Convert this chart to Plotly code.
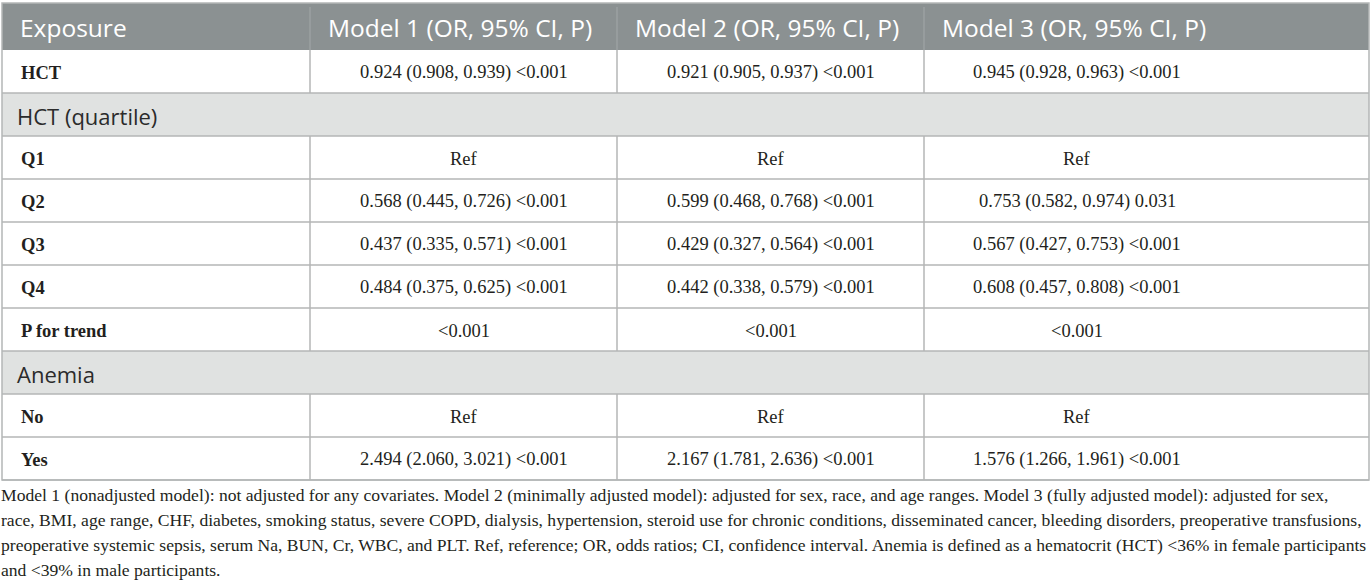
import plotly.graph_objects as go

# table content
headers = ["Exposure", "Model 1 (OR, 95% CI, P)", "Model 2 (OR, 95% CI, P)", "Model 3 (OR, 95% CI, P)"]
exposures = ["HCT", "HCT (quartile)", "Q1", "Q2", "Q3", "Q4", "P for trend", "Anemia", "No", "Yes"]
section_rows = ["HCT (quartile)", "Anemia"]
model1 = ["0.924 (0.908, 0.939) <0.001", "", "Ref", "0.568 (0.445, 0.726) <0.001",
          "0.437 (0.335, 0.571) <0.001", "0.484 (0.375, 0.625) <0.001", "<0.001", "",
          "Ref", "2.494 (2.060, 3.021) <0.001"]
model2 = ["0.921 (0.905, 0.937) <0.001", "", "Ref", "0.599 (0.468, 0.768) <0.001",
          "0.429 (0.327, 0.564) <0.001", "0.442 (0.338, 0.579) <0.001", "<0.001", "",
          "Ref", "2.167 (1.781, 2.636) <0.001"]
model3 = ["0.945 (0.928, 0.963) <0.001", "", "Ref", "0.753 (0.582, 0.974) 0.031",
          "0.567 (0.427, 0.753) <0.001", "0.608 (0.457, 0.808) <0.001", "<0.001", "",
          "Ref", "1.576 (1.266, 1.961) <0.001"]
footnote = [
    "Model 1 (nonadjusted model): not adjusted for any covariates. Model 2 (minimally adjusted model): adjusted for sex, race, and age ranges. Model 3 (fully adjusted model): adjusted for sex,",
    "race, BMI, age range, CHF, diabetes, smoking status, severe COPD, dialysis, hypertension, steroid use for chronic conditions, disseminated cancer, bleeding disorders, preoperative transfusions,",
    "preoperative systemic sepsis, serum Na, BUN, Cr, WBC, and PLT. Ref, reference; OR, odds ratios; CI, confidence interval. Anemia is defined as a hematocrit (HCT) &lt;36% in female participants",
    "and &lt;39% in male participants.",
]

W, H = 1372, 585
x0 = 2
col_widths = [308, 307, 307, 445]
header_h = 47
row_h = 43
top = 3

HEADER_FILL = "#8b9192"
SECTION_FILL = "#e0e2e1"
LINE = "#b4b6b6"
TEXT = "#231f20"
SANS = "Open Sans"
SERIF = "Liberation Serif"

col_edges = [x0]
for w in col_widths:
    col_edges.append(col_edges[-1] + w)
x1 = col_edges[-1]
# value text centres (last column text sits left of its centre)
centres = [(col_edges[1] + col_edges[2]) / 2, (col_edges[2] + col_edges[3]) / 2, col_edges[3] + 153]

fig = go.Figure()
shapes, annots = [], []

# header
shapes.append(dict(type="rect", x0=x0, x1=x1, y0=top, y1=top + header_h,
                   fillcolor=HEADER_FILL, line=dict(width=0), layer="below"))
for i, h in enumerate(headers):
    annots.append(dict(x=col_edges[i] + 16, y=top + header_h / 2 + 1, text=h,
                       xanchor="left", yanchor="middle", showarrow=False,
                       font=dict(family=SANS, size=24.5, color="white")))
for e in col_edges[1:-1]:
    shapes.append(dict(type="line", x0=e, x1=e, y0=top + 4, y1=top + header_h,
                       line=dict(color="#a3a8a9", width=1)))

cols = [model1, model2, model3]
for r, label in enumerate(exposures):
    ya = top + header_h + r * row_h
    yb = ya + row_h
    ym = (ya + yb) / 2
    if label in section_rows:
        shapes.append(dict(type="rect", x0=x0, x1=x1, y0=ya, y1=yb,
                           fillcolor=SECTION_FILL, line=dict(width=0), layer="below"))
        annots.append(dict(x=x0 + 13, y=ym + 1, text=label, xanchor="left", yanchor="middle",
                           showarrow=False, font=dict(family=SANS, size=22, color="#2b2b2b")))
    else:
        annots.append(dict(x=x0 + 17, y=ym + 1, text="<b>%s</b>" % label, xanchor="left",
                           yanchor="middle", showarrow=False,
                           font=dict(family=SERIF, size=18.5, color=TEXT)))
        for c, vals in enumerate(cols):
            annots.append(dict(x=centres[c], y=ym + 1, text=vals[r].replace("<", "&lt;"),
                               xanchor="center", yanchor="middle", showarrow=False,
                               font=dict(family=SERIF, size=18.5, color=TEXT)))
        for e in col_edges[1:-1]:
            shapes.append(dict(type="line", x0=e, x1=e, y0=ya, y1=yb,
                               line=dict(color=LINE, width=1.5)))
    shapes.append(dict(type="line", x0=x0, x1=x1, y0=yb, y1=yb, line=dict(color=LINE, width=1.5)))

table_bottom = top + header_h + len(exposures) * row_h
# outer border
shapes.append(dict(type="rect", x0=x0, x1=x1, y0=top, y1=table_bottom,
                   line=dict(color=LINE, width=1.5)))

for i, line in enumerate(footnote):
    annots.append(dict(x=0, xshift=-1, y=table_bottom + 15 + i * 25, text=line, xanchor="left",
                       yanchor="middle", showarrow=False,
                       font=dict(family=SERIF, size=17.6, color=TEXT)))

fig.update_layout(
    width=W, height=H,
    margin=dict(l=0, r=0, t=0, b=0),
    paper_bgcolor="white", plot_bgcolor="white",
    xaxis=dict(range=[0, W], visible=False, fixedrange=True),
    yaxis=dict(range=[H, 0], visible=False, fixedrange=True),
    shapes=shapes, annotations=annots, showlegend=False,
)

fig.write_html("out.html", config={"displayModeBar": False},
               post_script="document.body.style.margin='0';")
